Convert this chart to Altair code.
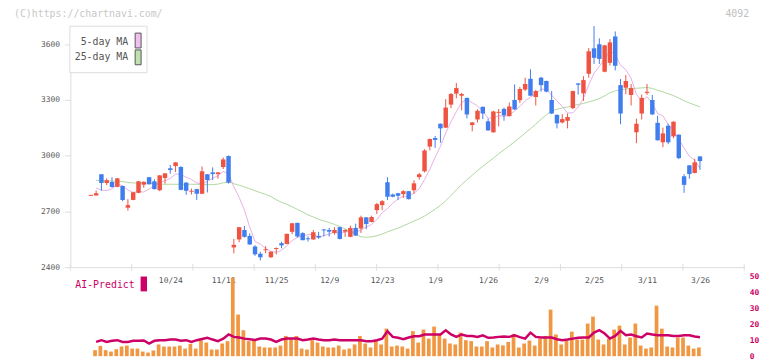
import altair as alt
import pandas as pd

# ---------------- data ----------------
idx = list(range(116))

opens = [2784,2786,2900,2853,2859,2832,2837,2720,2762,2800,
         2844,2884,2862,2814,2880,2932,2944,2939,2855,2806,
         2820,2795,2900,2910,2901,2939,2998,2506,2549,2600,
         2568,2511,2472,2491,2453,2498,2529,2525,2590,2638,
         2583,2555,2549,2568,2603,2600,2584,2615,2591,2563,
         2611,2608,2668,2643,2707,2734,2857,2791,2798,2793,
         2809,2814,2885,2916,3049,3095,3172,3151,3275,3334,
         3323,3311,3165,3195,3263,3185,3126,3231,3252,3213,
         3300,3299,3356,3414,3316,3420,3402,3300,3220,3179,
         3188,3256,3389,3336,3441,3578,3600,3452,3500,3642,
         3380,3366,3327,3126,3227,3338,3300,3177,3072,3161,
         3104,3113,2889,2948,2907,2996]

highs = [2789,2812,2901,2878,2884,2880,2839,2766,2805,2864,
         2862,2886,2873,2896,2906,2950,2965,2944,2857,2823,
         2822,2942,2901,2937,2912,2990,3001,2552,2616,2622,
         2582,2518,2483,2513,2485,2506,2536,2581,2638,2640,
         2588,2565,2600,2590,2606,2611,2615,2618,2604,2624,
         2634,2677,2670,2677,2746,2761,2884,2796,2800,2814,
         2810,2868,2907,3035,3092,3106,3173,3304,3338,3391,
         3338,3313,3181,3250,3265,3199,3242,3252,3259,3286,
         3384,3370,3420,3465,3354,3425,3404,3348,3222,3224,
         3227,3350,3391,3428,3580,3698,3632,3597,3628,3669,
         3413,3434,3386,3199,3329,3386,3327,3215,3151,3172,
         3185,3115,2900,2949,2983,2997]

lows = [2784,2785,2811,2841,2828,2830,2755,2704,2760,2798,
        2827,2845,2818,2809,2850,2903,2912,2814,2789,2791,
        2762,2793,2802,2869,2876,2928,2850,2474,2534,2559,
        2520,2461,2436,2474,2450,2468,2501,2523,2577,2559,
        2545,2538,2547,2552,2565,2565,2575,2549,2563,2561,
        2568,2584,2604,2641,2686,2707,2761,2776,2761,2773,
        2764,2795,2871,2910,3028,3042,3069,3149,3256,3309,
        3245,3200,3131,3179,3197,3135,3124,3158,3188,3211,
        3247,3284,3348,3323,3270,3345,3341,3224,3147,3174,
        3147,3250,3329,3295,3420,3494,3494,3449,3486,3459,
        3169,3331,3270,3067,3195,3327,3220,3081,3046,3062,
        3094,2982,2800,2876,2905,2923]

closes = [2789,2798,2853,2868,2832,2878,2761,2734,2803,2862,
          2859,2846,2820,2894,2905,2923,2964,2816,2811,2811,
          2795,2916,2869,2901,2910,2980,2855,2520,2615,2563,
          2522,2469,2453,2496,2483,2503,2517,2579,2636,2565,
          2545,2550,2588,2559,2598,2591,2600,2552,2600,2611,
          2570,2668,2632,2670,2739,2755,2779,2779,2784,2809,
          2766,2851,2900,3028,3090,3085,3147,3259,3332,3364,
          3332,3222,3179,3242,3227,3136,3238,3236,3217,3265,
          3249,3359,3386,3323,3348,3380,3345,3227,3174,3197,
          3208,3348,3382,3407,3562,3527,3521,3594,3610,3484,
          3227,3402,3364,3172,3311,3344,3222,3083,3120,3072,
          3183,2987,2843,2901,2964,2971]

ma5 = [None,2826,2815,2812,2822,2846,2838,2815,2802,2808,
       2804,2821,2838,2856,2865,2878,2901,2900,2884,2872,
       2853,2848,2862,2879,2892,2915,2903,2833,2776,2707,
       2615,2538,2524,2500,2484,2480,2490,2515,2543,2560,
       2568,2575,2577,2562,2569,2578,2588,2580,2589,2591,
       2587,2600,2616,2630,2656,2693,2715,2744,2767,2781,
       2783,2798,2822,2871,2927,2991,3050,3122,3183,3237,
       3287,3302,3286,3268,3240,3201,3204,3216,3211,3218,
       3241,3265,3295,3316,3333,3359,3356,3325,3295,3265,
       3230,3231,3262,3308,3381,3445,3480,3522,3563,3547,
       3487,3463,3417,3330,3295,3318,3282,3226,3215,3168,
       3136,3089,3041,2997,2976,2933]

ma25 = [None,2867,2866,2864,2863,2862,2860,2856,2853,2853,
        2852,2851,2849,2847,2846,2846,2846,2846,2846,2846,
        2846,2845,2844,2844,2847,2854,2859,2849,2841,2832,
        2822,2811,2801,2792,2780,2763,2749,2738,2725,2711,
        2697,2681,2670,2658,2649,2640,2630,2618,2606,2593,
        2576,2563,2561,2563,2569,2578,2590,2600,2610,2622,
        2635,2648,2660,2675,2693,2712,2733,2757,2786,2816,
        2845,2870,2895,2920,2943,2965,2987,3010,3032,3053,
        3075,3098,3122,3145,3170,3196,3220,3240,3250,3257,
        3262,3270,3276,3281,3290,3297,3308,3322,3338,3349,
        3354,3359,3363,3363,3365,3367,3362,3352,3344,3333,
        3324,3310,3296,3284,3273,3263]

vol = [None,3.8,6.5,3.8,2.9,4.4,6.1,6.7,4.8,4.8,
       2.9,2.3,3.6,7.4,6.1,6.1,6.1,6.7,4.8,7.8,
       4.8,10.1,8.6,4.2,4.2,8.0,9.5,49.6,26.3,16.4,
       9.5,9.6,6.1,5.5,5.5,5.5,6.7,12.8,11.1,12.8,
       4.8,4.2,10.1,8.6,6.1,5.5,5.5,6.7,4.2,4.8,
       7.4,12.8,8.0,5.5,9.5,7.4,17.4,6.1,6.7,6.1,
       4.8,15.8,8.6,16.8,11.1,18.7,13.9,11.1,8.0,7.4,
       14.9,10.1,9.5,6.1,6.1,9.5,5.5,7.4,6.8,9.0,
       14.1,5.5,8.0,9.9,6.7,11.1,12.8,29.4,13.7,7.4,
       9.9,15.5,10.5,10.5,20.6,25.0,10.5,7.4,11.1,16.8,
       19.3,7.4,11.8,20.6,6.7,4.8,5.5,31.9,17.4,6.1,
       5.5,11.8,11.8,6.7,4.8,5.5]

ai = [None,9.0,10.1,9.0,9.7,10.1,9.0,9.0,9.7,9.7,
      9.9,8.0,9.7,10.1,10.1,10.5,10.5,9.7,10.1,9.0,
      10.1,10.9,11.6,10.5,9.5,11.1,13.7,12.2,11.8,11.1,
      10.7,10.3,11.1,11.1,10.5,9.0,10.5,11.1,11.1,11.1,
      10.1,10.5,11.1,10.5,10.1,10.1,10.5,10.1,10.1,10.1,
      10.1,10.1,9.5,9.5,10.1,11.1,15.8,12.2,11.6,10.7,
      11.8,12.6,12.6,13.7,13.7,13.7,13.7,16.4,13.7,12.2,
      13.7,12.8,12.8,12.2,13.2,11.6,11.8,12.2,12.4,12.2,
      13.2,12.0,11.1,14.9,12.2,11.8,11.8,11.8,10.7,10.1,
      10.5,11.1,11.6,11.8,11.8,14.9,16.4,14.3,11.1,12.8,
      16.0,13.2,13.7,12.6,11.8,14.3,13.7,13.2,13.2,13.2,
      12.8,12.8,13.2,13.2,12.4,12.0]

tick_idx = [15, 25, 35, 45, 55, 65, 75, 85, 95, 105, 115]
tick_labels = ["10/24", "11/11", "11/25", "12/9", "12/23", "1/9",
               "1/26", "2/9", "2/25", "3/11", "3/26"]
price_ticks = [2400, 2700, 3000, 3300, 3600]
vol_ticks = [0, 10, 20, 30, 40, 50]

# ---------------- styling ----------------
MONO = "DejaVu Sans Mono"
RED = "#ef5341"
BLUE = "#407dee"
VOL_C = "#f19741"
AI_C = "#cc0066"
PINK = "#e6b0e6"
GREEN = "#b0d8a0"
AXIS_C = "#dddddd"
TXT = "#555555"

X_LO, X_HI = -3.867, 123.35
Y_LO, Y_HI = 2400, 3700

df = pd.DataFrame(dict(i=idx, o=opens, h=highs, l=lows, c=closes,
                       ma5=ma5, ma25=ma25, vol=vol, ai=ai))
grid_df = pd.DataFrame({"g": [X_LO + k * (X_HI - X_LO) / 11 for k in range(12)]})

xs = alt.Scale(domain=[X_LO, X_HI], nice=False, zero=False)
label_expr = ("[" + ",".join("'%s'" % t for t in tick_labels) + "][indexof(["
              + ",".join(str(v) for v in tick_idx) + "], datum.value)]")
xax = alt.Axis(values=tick_idx, labelExpr=label_expr, ticks=False, grid=False,
               domainColor=AXIS_C, domainWidth=1, labelFont=MONO, labelFontSize=8,
               labelColor=TXT, labelPadding=10, labelFlush=False,
               labelOverlap=False, labelBound=False, title=None)


def X(f):
    return alt.X(f, type="quantitative", scale=xs, axis=xax, title=None)


ys = alt.Scale(domain=[Y_LO, Y_HI], nice=False, zero=False)
yax = alt.Axis(values=price_ticks, format="d", grid=False, domainColor=AXIS_C,
               tickColor=AXIS_C, tickSize=6, labelFont=MONO, labelFontSize=8,
               labelColor=TXT, labelPadding=5, title=None)


def Y(f):
    return alt.Y(f, type="quantitative", scale=ys, axis=yax, title=None)


vys = alt.Scale(domain=[0, 50], range=[334, 254], nice=False, zero=False)
vax = alt.Axis(orient="right", values=vol_ticks, format="d", domain=False, ticks=False,
               grid=False, labelFont=MONO, labelFontSize=8, labelFontWeight="bold",
               labelColor=AI_C, labelPadding=5, title=None)

col = alt.when(alt.datum.c >= alt.datum.o).then(alt.value(RED)).otherwise(alt.value(BLUE))

base = alt.Chart(df)

grid_ticks = alt.Chart(grid_df).mark_rule(color=AXIS_C, strokeWidth=1).encode(
    x=X("g"), y=alt.value(241), y2=alt.value(247.5))

ma25_line = base.transform_filter("isValid(datum.ma25)").mark_line(
    color=GREEN, strokeWidth=1).encode(x=X("i"), y=Y("ma25"))
ma5_line = base.transform_filter("isValid(datum.ma5)").mark_line(
    color=PINK, strokeWidth=1).encode(x=X("i"), y=Y("ma5"))

wick = base.mark_rule(strokeWidth=1).encode(x=X("i"), y=Y("l"), y2="h:Q", color=col)
body = base.transform_calculate(x0="datum.i - 0.42", x1="datum.i + 0.42").mark_rect().encode(
    x=X("x0"), x2="x1:Q", y=Y("o"), y2="c:Q", color=col)

vol_bars = base.transform_filter("isValid(datum.vol)").transform_calculate(
    v0="datum.i - 0.55", v1="datum.i + 0.15", z="0").mark_rect(color=VOL_C).encode(
    x=X("v0"), x2="v1:Q", y=alt.Y("vol:Q", scale=vys, axis=vax, title=None), y2="z:Q")
ai_line = base.transform_filter("isValid(datum.ai)").mark_line(
    color=AI_C, strokeWidth=2.5).encode(
    x=X("i"), y=alt.Y("ai:Q", scale=vys, axis=vax, title=None))


def txt(s, x, y, color, size=10, align="left", weight="normal"):
    return alt.Chart(pd.DataFrame({"t": [s]})).mark_text(
        font=MONO, fontSize=size, color=color, align=align, baseline="middle",
        fontWeight=weight).encode(x=alt.value(x), y=alt.value(y), text="t:N")


def box(x, x2, y, y2, fill, stroke=None, sw=1):
    kw = dict(fill=fill)
    if stroke:
        kw.update(stroke=stroke, strokeWidth=sw)
    return alt.Chart(pd.DataFrame({"a": [0]})).mark_rect(**kw).encode(
        x=alt.value(x), x2=alt.value(x2), y=alt.value(y), y2=alt.value(y2))


legend_box = box(-0.5, 77.5, 0.5, 47.5, "white", AXIS_C)
leg_t1 = txt("5-day MA", 58.5, 16.5, TXT, 10, "right")
leg_t2 = txt("25-day MA", 58.5, 32, TXT, 10, "right")
leg_s1 = box(65.5, 71.5, 7.5, 22.5, "#f0c0f0", "#555555")
leg_s2 = box(65.5, 71.5, 24.5, 39.5, "#c0e0b0", "#555555")
watermark = txt("(C)https://chartnavi.com/", -57, -12, "#c8c8c8", 10)
code_txt = txt("4092", 686, -12, "#c0c0c0", 10, "right")
ai_txt = txt("AI-Predict", 5, 262, AI_C, 10)
ai_rect = box(71, 77.5, 253.5, 268.5, AI_C)

main = alt.layer(grid_ticks, ma25_line, ma5_line, wick, body,
                 legend_box, leg_t1, leg_t2, leg_s1, leg_s2,
                 watermark, code_txt, ai_txt, ai_rect)
vol_layer = alt.layer(vol_bars, ai_line)

chart = alt.layer(main, vol_layer).resolve_scale(y="independent").properties(
    width=681, height=244,
    autosize=alt.AutoSizeParams(type="none"),
    padding={"left": 63, "top": 16, "right": 20, "bottom": 93},
    background="white",
).configure_view(strokeWidth=0)

chart.save("out.html", embed_options={"renderer": "svg", "actions": False})
